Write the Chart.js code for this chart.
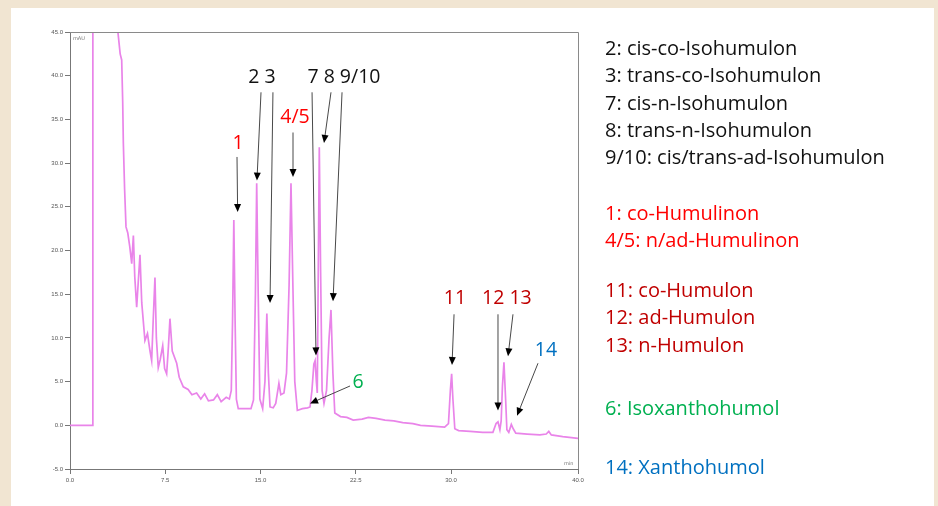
<!DOCTYPE html>
<html>
<head>
<meta charset="utf-8">
<script src="https://cdn.jsdelivr.net/npm/chart.js@4.4.1/dist/chart.umd.min.js"></script>
<style>
  html, body { margin: 0; padding: 0; }
  body { width: 938px; height: 506px; background: #f1e5d2; position: relative; overflow: hidden; font-family: "Open Sans", sans-serif; }
  #panel { position: absolute; left: 11px; top: 8px; width: 923px; height: 498px; background: #fff; }
  #chart { position: absolute; left: 0; top: 0; }
  .leg { position: absolute; left: 605px; font-size: 20px; line-height: 18px; white-space: nowrap; }
</style>
</head>
<body>
<div id="panel"></div>
<canvas id="chart" width="938" height="506"></canvas>
<div id="legend"></div>
<script>
// retention time (min) and detector signal (mAU)
const times = [0, 1.8, 1.8, 2.5, 3.5, 3.72, 3.78, 3.95, 4.07, 4.15, 4.2, 4.3, 4.41, 4.55, 4.7, 4.86, 4.99, 5.1, 5.25, 5.4,
  5.51, 5.65, 5.9, 6.1, 6.3, 6.43, 6.55, 6.69, 6.8, 6.95, 7.1, 7.3, 7.45, 7.61, 7.75, 7.87, 8.05, 8.4, 8.6, 8.92,
  9.3, 9.6, 9.97, 10.3, 10.6, 10.9, 11.3, 11.6, 11.9, 12.3, 12.55, 12.7, 12.8, 12.9, 13.0, 13.1, 13.25, 13.8, 14.25, 14.45,
  14.6, 14.7, 14.82, 14.95, 15.17, 15.35, 15.5, 15.62, 15.75, 16.0, 16.2, 16.45, 16.6, 16.85, 17.05, 17.25, 17.4, 17.55, 17.7, 17.9,
  18.3, 18.7, 18.9, 19.05, 19.2, 19.3, 19.4, 19.47, 19.55, 19.63, 19.73, 19.85, 20.0, 20.2, 20.4, 20.55, 20.7, 20.85, 21.3, 21.8,
  22.3, 23.0, 23.5, 24.1, 24.8, 25.5, 26.2, 27.0, 27.6, 28.5, 29.5, 29.8, 29.95, 30.05, 30.15, 30.3, 30.6, 31.5, 32.5, 33.3,
  33.55, 33.7, 33.85, 33.95, 34.05, 34.17, 34.3, 34.4, 34.55, 34.75, 34.9, 35.1, 36.0, 37.0, 37.5, 37.7, 37.9, 38.8, 40.0]
const signal = [0, 0, 60, 70, 70, 50, 44.9, 42.5, 41.8, 37, 32.3, 27, 22.7, 22.0, 20.5, 18.5, 21.7, 17, 13.5, 17,
  19.5, 14, 9.7, 10.5, 8.5, 7.4, 12, 16.9, 10, 6.6, 7.5, 9.1, 6.5, 5.9, 9, 12.2, 8.5, 7.1, 5.5, 4.4,
  4.1, 3.5, 3.7, 3.0, 3.6, 2.8, 2.9, 3.5, 2.7, 3.2, 3.0, 4.0, 12, 23.5, 12, 3, 1.9, 1.9, 1.9, 2.9,
  15, 27.7, 15, 3, 1.9, 5, 12.8, 6, 2.1, 2.0, 2.5, 4.8, 3.5, 3.7, 6, 16, 27.7, 16, 5, 1.7,
  1.9, 2.0, 2.1, 4, 7, 7.4, 5, 3.7, 18, 31.8, 18, 4, 2.5, 4, 10, 13.2, 6, 1.4, 1.0, 0.9,
  0.6, 0.7, 0.9, 0.8, 0.6, 0.5, 0.3, 0.2, 0.0, -0.1, -0.2, 0.2, 4, 5.9, 3, -0.4, -0.6, -0.7, -0.8, -0.8,
  0.2, 0.4, -0.5, 0.5, 4.5, 7.2, 3, -0.5, -0.8, 0.1, -0.4, -0.9, -1.0, -1.1, -1.0, -0.7, -1.1, -1.3, -1.5]
const xTicks = [0, 7.5, 15, 22.5, 30, 40]

const legendBlack = ['2: cis-co-Isohumulon', '3: trans-co-Isohumulon', '7: cis-n-Isohumulon', '8: trans-n-Isohumulon', '9/10: cis/trans-ad-Isohumulon']
const legendRed = ['1: co-Humulinon', '4/5: n/ad-Humulinon']
const legendDarkRed = ['11: co-Humulon', '12: ad-Humulon', '13: n-Humulon']
const legendGreen = ['6: Isoxanthohumol']
const legendBlue = ['14: Xanthohumol']

// peak labels: text position and arrows (tail -> tip) in chart units
const peakLabels = [
  { text: '1', color: '#ff0000', at: [13.23, 32.2], arrows: [[13.15, 30.7, 13.2, 24.4]] },
  { text: '2 3', color: '#111', at: [15.12, 39.8], arrows: [[15.04, 38.1, 14.72, 28.0], [15.98, 38.1, 15.75, 14.0]] },
  { text: '4/5', color: '#ff0000', at: [17.72, 35.2], arrows: [[17.56, 33.5, 17.56, 28.4]] },
  { text: '7 8 9/10', color: '#111', at: [21.57, 39.8], arrows: [[19.06, 38.1, 19.37, 8.0], [20.55, 38.1, 20.0, 32.3], [21.42, 38.1, 20.71, 14.2]] },
  { text: '6', color: '#00b050', at: [22.68, 4.9], arrows: [[22.05, 4.5, 18.9, 2.5]] },
  { text: '11', color: '#c00000', at: [30.31, 14.5], arrows: [[30.24, 12.7, 30.08, 6.9]] },
  { text: '12 13', color: '#c00000', at: [34.4, 14.5], arrows: [[33.7, 12.7, 33.7, 1.7], [34.88, 12.7, 34.49, 7.9]] },
  { text: '14', color: '#0070c0', at: [37.48, 8.6], arrows: [[36.85, 7.1, 35.2, 1.1]] }
]

function addLegend(lines, color, top) {
  lines.forEach(function(t, i) {
    const d = document.createElement('div')
    d.className = 'leg'
    d.style.top = (top + i * 27.3) + 'px'
    d.style.color = color
    d.textContent = t
    document.getElementById('legend').appendChild(d)
  })
}
addLegend(legendBlack, '#111', 39)
addLegend(legendRed, '#ff0000', 204)
addLegend(legendDarkRed, '#c00000', 281)
addLegend(legendGreen, '#00b050', 399)
addLegend(legendBlue, '#0070c0', 458)

const frame = {
  id: 'frame',
  afterDraw(chart) {
    const ctx = chart.ctx, a = chart.chartArea
    ctx.save()
    ctx.strokeStyle = '#8a8a8a'
    ctx.lineWidth = 1
    ctx.beginPath()
    ctx.moveTo(a.left, a.top + 0.5)
    ctx.lineTo(a.right + 0.5, a.top + 0.5)
    ctx.lineTo(a.right + 0.5, a.bottom)
    ctx.stroke()
    ctx.fillStyle = '#777'
    ctx.font = '5px "DejaVu Sans"'
    ctx.fillText('mAU', a.left + 3, a.top + 8)
    ctx.fillText('min', a.right - 14, a.bottom - 4)
    ctx.restore()
  },
  afterDatasetsDraw(chart) {
    const ctx = chart.ctx, xs = chart.scales.x, ys = chart.scales.y
    ctx.save()
    peakLabels.forEach(function(p) {
      ctx.font = '19.5px "Open Sans", sans-serif'
      ctx.fillStyle = p.color
      ctx.textAlign = 'center'
      ctx.textBaseline = 'middle'
      ctx.fillText(p.text, xs.getPixelForValue(p.at[0]), ys.getPixelForValue(p.at[1]))
      p.arrows.forEach(function(r) {
        const x1 = xs.getPixelForValue(r[0]), y1 = ys.getPixelForValue(r[1])
        const x2 = xs.getPixelForValue(r[2]), y2 = ys.getPixelForValue(r[3])
        const ang = Math.atan2(y2 - y1, x2 - x1)
        ctx.strokeStyle = '#333'
        ctx.fillStyle = '#000'
        ctx.lineWidth = 0.9
        ctx.beginPath()
        ctx.moveTo(x1, y1)
        ctx.lineTo(x2 - 6 * Math.cos(ang), y2 - 6 * Math.sin(ang))
        ctx.stroke()
        ctx.beginPath()
        ctx.moveTo(x2, y2)
        ctx.lineTo(x2 - 8 * Math.cos(ang) + 3.5 * Math.sin(ang), y2 - 8 * Math.sin(ang) - 3.5 * Math.cos(ang))
        ctx.lineTo(x2 - 8 * Math.cos(ang) - 3.5 * Math.sin(ang), y2 - 8 * Math.sin(ang) + 3.5 * Math.cos(ang))
        ctx.closePath()
        ctx.fill()
      })
    })
    ctx.restore()
  }
}

new Chart(document.getElementById('chart'), {
  type: 'line',
  data: {
    datasets: [{
      data: times.map((t, i) => ({ x: t, y: signal[i] })),
      borderColor: '#e984e9',
      borderWidth: 1.7,
      pointRadius: 0,
      tension: 0,
      fill: false
    }]
  },
  options: {
    responsive: false,
    animation: false,
    layout: { padding: { left: 0, top: 32, right: 360, bottom: 0 } },
    plugins: { legend: { display: false }, tooltip: { enabled: false } },
    scales: {
      x: {
        type: 'linear',
        min: 0,
        max: 40,
        afterBuildTicks(scale) { scale.ticks = xTicks.map(v => ({ value: v })) },
        afterFit(scale) { scale.height = 37 },
        grid: { drawOnChartArea: false, drawTicks: true, tickLength: 5, color: '#777' },
        border: { display: true, color: '#777' },
        ticks: { color: '#555', font: { size: 6 }, padding: 3, maxRotation: 0, callback: v => v.toFixed(1) }
      },
      y: {
        min: -5,
        max: 45,
        afterFit(scale) { scale.width = 70 },
        grid: { drawOnChartArea: false, drawTicks: true, tickLength: 5, color: '#777' },
        border: { display: true, color: '#777' },
        ticks: { stepSize: 5, color: '#555', font: { size: 6 }, padding: 2, callback: v => v.toFixed(1) }
      }
    }
  },
  plugins: [frame]
})
</script>
</body>
</html>
